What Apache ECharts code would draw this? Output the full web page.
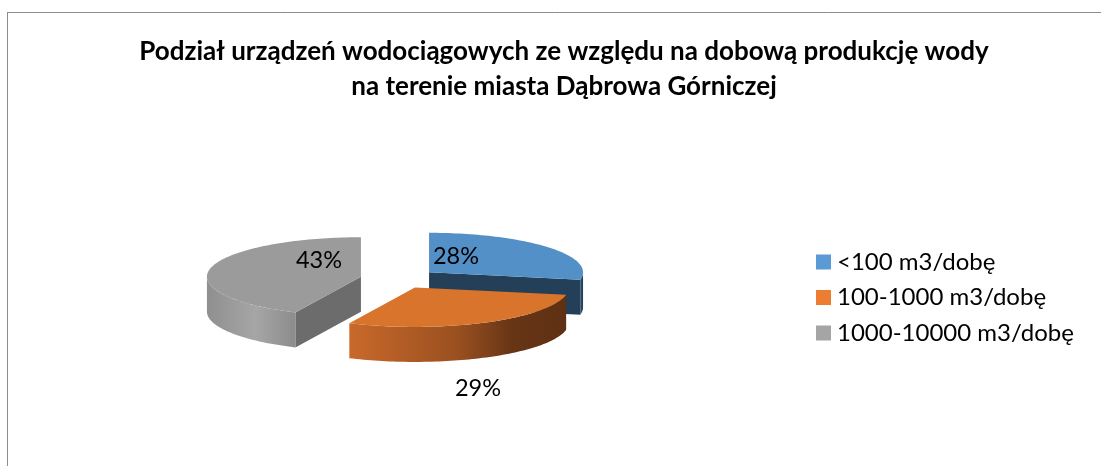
<!DOCTYPE html>
<html><head><meta charset="utf-8">
<style>html,body{margin:0;padding:0;background:#fff}#c{width:1101px;height:466px}</style>
<script src="https://cdn.jsdelivr.net/npm/echarts@6/dist/echarts.min.js"></script>
</head><body><div id="c"></div>
<script>
const categories = ['<100 m3/dobę', '100-1000 m3/dobę', '1000-10000 m3/dobę'];
const shares = [28, 29, 43];
const titleLines = 'Podział urządzeń wodociągowych ze względu na dobową produkcję wody\nna terenie miasta Dąbrowa Górniczej';

const legendColors = ['#5B9BD5', '#ED7D31', '#A5A5A5'];
const topColors = ['#5490C8', '#D9742D', '#9B9B9B'];
const cutColors = ['#243F58', '#5F3114', '#6C6C6C'];
const wallStops = [
  [[0, '#2A4A68'], [1, '#243F58']],
  [[0, '#C8692B'], [0.5, '#9A5020'], [0.75, '#673516'], [1, '#5F3013']],
  [[0, '#8F8F8F'], [0.55, '#A6A6A6'], [1, '#8C8C8C']]
];
const labelSpots = [[456, 256], [478, 388], [319, 260]];
const explosion = [39, 35, 39];

const FONT = 'Lato, Carlito, "Open Sans", sans-serif';
const CX = 399, CY = 279, RX = 154, RY = 39.5, FLATTEN = 0.27, DEPTH = 35;
const total = shares.reduce((a, b) => a + b, 0);

function arc(ax, ay, a1, a2, dy) {
  const pts = [], n = Math.max(2, Math.ceil((a2 - a1) * 40));
  for (let i = 0; i <= n; i++) {
    const a = a1 + (a2 - a1) * i / n;
    pts.push([ax + RX * Math.sin(a), ay - RY * Math.cos(a) + dy]);
  }
  return pts;
}

function slice(idx) {
  return function (params, api) {
    const before = shares.slice(0, idx).reduce((a, b) => a + b, 0);
    const v = api.value(0);
    const a1 = before / total * 2 * Math.PI, a2 = (before + v) / total * 2 * Math.PI;
    const mid = (a1 + a2) / 2;
    const ex = explosion[idx];
    const ax = CX + ex * Math.sin(mid), ay = CY - ex * FLATTEN * Math.cos(mid);
    const children = [];
    [a1, a2].forEach(a => {
      const r = [ax + RX * Math.sin(a), ay - RY * Math.cos(a)];
      const facing = (a === a2 && Math.sin(a) > 0) || (a === a1 && Math.sin(a) < 0);
      if (facing) children.push({ type: 'polygon', shape: { points: [[ax, ay], r, [r[0], r[1] + DEPTH], [ax, ay + DEPTH]] },
        style: { fill: cutColors[idx] } });
    });
    const w1 = Math.max(a1, Math.PI / 2), w2 = Math.min(a2, 3 * Math.PI / 2);
    if (w2 > w1) {
      const upper = arc(ax, ay, w1, w2, 0), lower = arc(ax, ay, w1, w2, DEPTH).reverse();
      const stops = wallStops[idx].map(s => ({ offset: s[0], color: s[1] }));
      children.push({ type: 'polygon', shape: { points: upper.concat(lower) },
        style: { fill: new echarts.graphic.LinearGradient(0, 0, 1, 0, stops) } });
    }
    children.push({ type: 'polygon', shape: { points: [[ax, ay]].concat(arc(ax, ay, a1, a2, 0)) },
      style: { fill: topColors[idx] } });
    children.push({ type: 'text', x: labelSpots[idx][0], y: labelSpots[idx][1],
      style: { text: v + '%', fontFamily: FONT, fontSize: 23.5, fill: '#000', align: 'center', verticalAlign: 'middle' } });
    return { type: 'group', children };
  };
}

const drawOrder = [0, 2, 1];
const chart = echarts.init(document.getElementById('c'), null, { renderer: 'canvas' });
chart.setOption({
  animation: false,
  backgroundColor: '#fff',
  title: { text: titleLines, left: 559, top: 29, textAlign: 'center',
    textStyle: { fontFamily: FONT, fontSize: 26, fontWeight: 'bold', color: '#000', lineHeight: 35 } },
  legend: { orient: 'vertical', left: 816, top: 248, padding: 0, itemWidth: 15, itemHeight: 15, itemGap: 7.5,
    selectedMode: false, icon: 'rect', data: categories,
    textStyle: { fontFamily: FONT, fontSize: 24, color: '#000', padding: [0, 0, 0, 1], lineHeight: 28 } },
  graphic: [
    { type: 'line', shape: { x1: 7.5, y1: 12.5, x2: 1101, y2: 12.5 }, style: { stroke: '#8C8C8C', lineWidth: 1 } },
    { type: 'line', shape: { x1: 7.5, y1: 12, x2: 7.5, y2: 466 }, style: { stroke: '#8C8C8C', lineWidth: 1 } }
  ],
  series: categories.map((name, i) => ({
    type: 'custom', name, coordinateSystem: 'none',
    color: legendColors[i], itemStyle: { color: legendColors[i] },
    z: 2 + drawOrder.indexOf(i),
    renderItem: slice(i), data: [[shares[i]]]
  }))
});
</script></body></html>
